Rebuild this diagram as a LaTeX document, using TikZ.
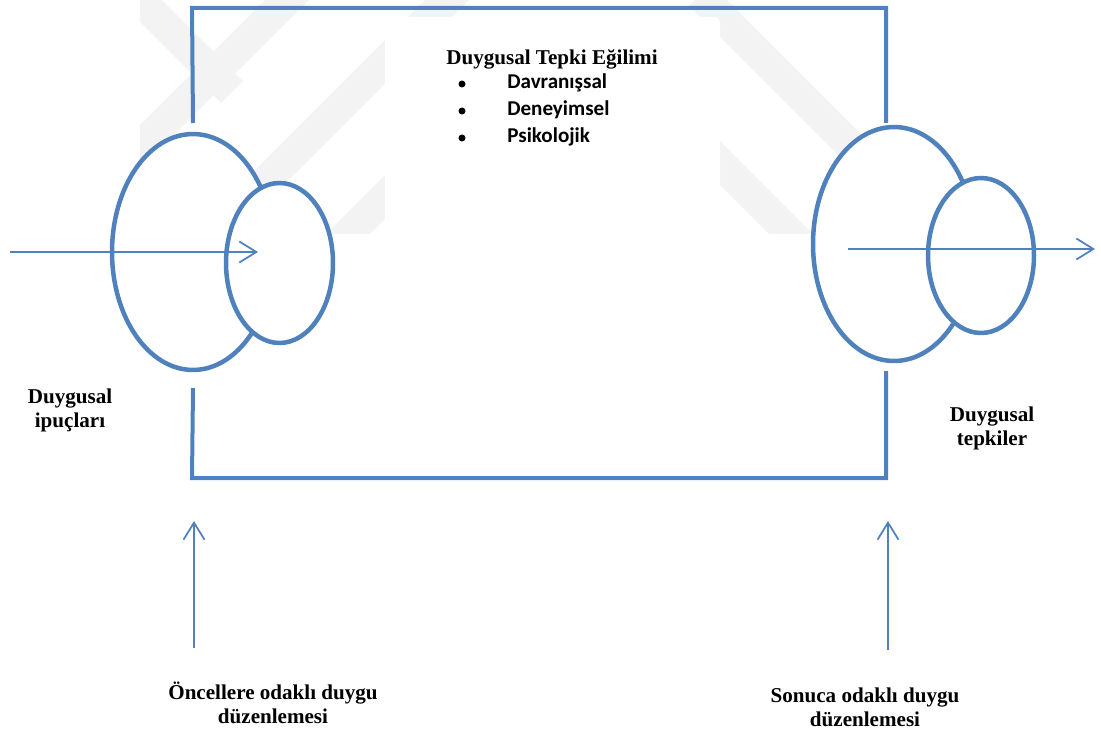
\documentclass[tikz,border=0pt]{standalone}
\usepackage{fontspec}
\setmainfont{Liberation Serif}
\newfontfamily\itemfont{Carlito}
\usetikzlibrary{shapes.geometric,arrows.meta}
\definecolor{lineblue}{HTML}{4F81BD}
\definecolor{markgray}{RGB}{243,243,243}
\begin{document}
\begin{tikzpicture}[x=0.02cm,y=-0.02cm,
  frameline/.style={draw=lineblue,line width=0.08cm},
  ring/.style={ellipse,draw=lineblue,fill=white,line width=0.09cm,inner sep=0pt},
  flow/.style={draw=lineblue,line width=0.035cm,-{Straight Barb[length=0.34cm,width=0.42cm]}},
  lbl/.style={font=\bfseries\fontsize{12}{13.6}\selectfont,align=center,inner sep=0pt},
  bullettext/.style={font=\itemfont\bfseries\fontsize{12}{13}\selectfont,anchor=base west,inner sep=0pt},
  dot/.style={circle,fill=black,inner sep=0pt,minimum size=0.14cm},
  band/.style={draw=markgray,line width=0.62cm}
]
\useasboundingbox (0,0) rectangle (1101,733);

% faint background mark
\begin{scope}
  \clip (140,0) rectangle (905,233);
  \draw[band] (130,-10) -- (232,92);
  \draw[band] (115,172) -- (300,-13);
  \draw[band] (200,247) -- (460,-13);
  \draw[band] (335,247) -- (420,162);
  \draw[band] (700,-5) -- (905,200);
  \draw[band] (705,148) -- (800,243);
\end{scope}

% text panel
\fill[white,rounded corners=0.1cm] (385,17) rectangle (720,230);

% frame
\coordinate (ltop) at (193,123);
\coordinate (tl) at (192,8);
\coordinate (tr) at (886,8);
\coordinate (rtop) at (886,123);
\coordinate (lbot) at (193,388);
\coordinate (bl) at (192,478);
\coordinate (br) at (886,478);
\coordinate (rbot) at (886,371);
\draw[frameline] (ltop) -- (tl) -- (tr) -- (rtop);
\draw[frameline] (lbot) -- (bl) -- (br) -- (rbot);

% ellipses
\node[ring,minimum width=3.24cm,minimum height=4.72cm] (cueOuter) at (193,252) {};
\node[ring,minimum width=2.14cm,minimum height=3.2cm] (cueInner) at (279.5,263) {};
\node[ring,minimum width=3.24cm,minimum height=4.68cm] (respOuter) at (894,244) {};
\node[ring,minimum width=2.12cm,minimum height=3.1cm] (respInner) at (981,255.5) {};

% flows
\coordinate (cueIn) at (10,252);
\coordinate (cueTip) at (258,252);
\draw[flow] (cueIn) -- (cueTip);
\coordinate (respFrom) at (848,249);
\coordinate (respOut) at (1095,249);
\draw[flow] (respFrom) -- (respOut);
\coordinate (anteFoot) at (194,648);
\coordinate (anteTip) at (194,521);
\draw[flow] (anteFoot) -- (anteTip);
\coordinate (consFoot) at (888,650);
\coordinate (consTip) at (888,521);
\draw[flow] (consFoot) -- (consTip);

% panel text
\node[lbl,anchor=base] (heading) at (552,65) {Duygusal Tepki Eğilimi};
\node[dot] (d1) at (462,84) {};
\node[dot] (d2) at (462,111) {};
\node[dot] (d3) at (462,138) {};
\node[bullettext] (i1) at (507,89) {Davranışsal};
\node[bullettext] (i2) at (507,116) {Deneyimsel};
\node[bullettext] (i3) at (507,143) {Psikolojik};

% labels (base anchor sits on the last line)
\node[lbl,anchor=base] (cueLbl) at (70,427) {Duygusal\\ipuçları};
\node[lbl,anchor=base] (respLbl) at (992,445) {Duygusal\\tepkiler};
\node[lbl,anchor=base] (anteLbl) at (273,723) {Öncellere odaklı duygu\\düzenlemesi};
\node[lbl,anchor=base] (consLbl) at (865,726) {Sonuca odaklı duygu\\düzenlemesi};
\end{tikzpicture}
\end{document}
